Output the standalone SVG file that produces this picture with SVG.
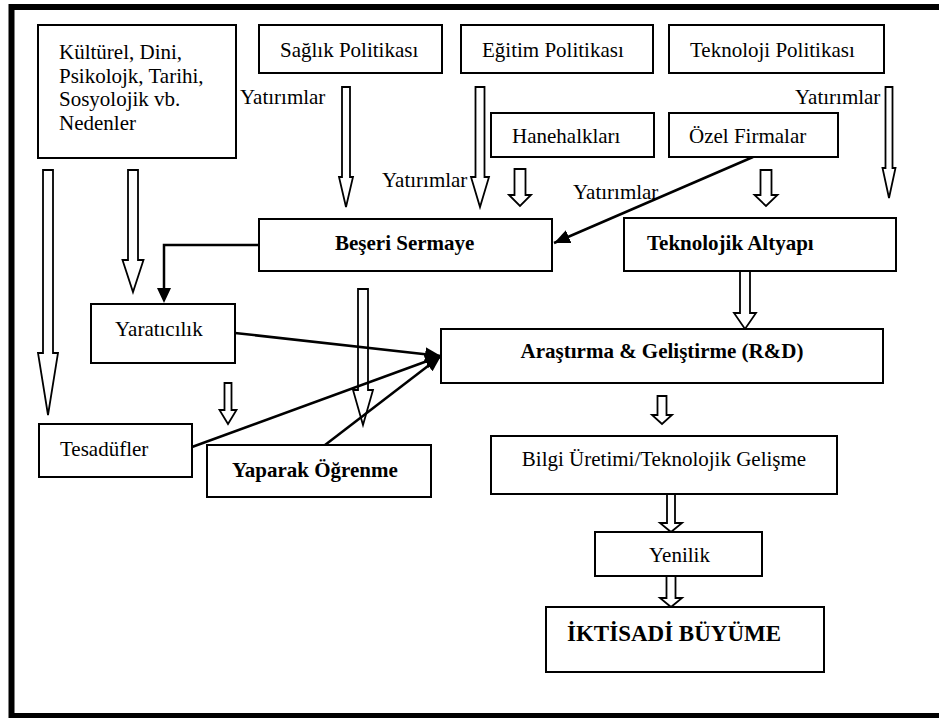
<svg xmlns="http://www.w3.org/2000/svg" width="939" height="718" viewBox="0 0 939 718">
<style>
.box{fill:#fff;stroke:#000;stroke-width:2}
.t{font-family:'Liberation Serif','Times New Roman',Times,'DejaVu Serif',serif;font-size:21px;fill:#000}
.b{font-weight:bold}
.ha{fill:#fff;stroke:#000;stroke-width:1.8;stroke-linejoin:miter}
.ln{fill:none;stroke:#000;stroke-width:2.5}
</style>
<defs>
<marker id="ah" markerUnits="userSpaceOnUse" markerWidth="18" markerHeight="16" refX="16" refY="7" orient="auto">
<path d="M0,0 L16,7 L0,14 z" fill="#000"/>
</marker>
</defs>
<rect x="11.5" y="7" width="940" height="709" fill="#fff" stroke="#000" stroke-width="6"/>

<g id="hollow-arrows">
<polygon class="ha" points="342,87 350,87 350,177 353,177 346,207 339,177 342,177"/>
<polygon class="ha" points="475.5,87 484.5,87 484.5,177 489,177 480,207 471,177 475.5,177"/>
<polygon class="ha" points="885.5,87 892.5,87 892.5,168 895.5,168 889,198 882.5,168 885.5,168"/>
<polygon class="ha" points="514.5,169 525.5,169 525.5,195 531,195 520,206 509,195 514.5,195"/>
<polygon class="ha" points="760.5,170 771.5,170 771.5,195 777.5,195 766,206 754.5,195 760.5,195"/>
<polygon class="ha" points="43,170 53,170 53,353 58,353 48,415 38,353 43,353"/>
<polygon class="ha" points="128,170 138,170 138,260 143.5,260 133,292 122.5,260 128,260"/>
<polygon class="ha" points="358,289 368,289 368,390 373,390 363,425 353,390 358,390"/>
<polygon class="ha" points="224.5,383 231.5,383 231.5,410 236.5,410 228,424 219.5,410 224.5,410"/>
<polygon class="ha" points="740,271 750,271 750,313 756,313 745,329 734,313 740,313"/>
<polygon class="ha" points="657.5,396 666.5,396 666.5,415 672,415 662,424 652,415 657.5,415"/>
<polygon class="ha" points="667,494 675,494 675,523 682,523 671,532 660,523 667,523"/>
<polygon class="ha" points="666.5,576 675.5,576 675.5,598 682,598 671,607 660,598 666.5,598"/>
</g>

<g id="connectors">
<path class="ln" d="M258,245 H164 V290"/>
<polygon points="157,288 171,288 164,303" fill="#000"/>
<line class="ln" x1="753" y1="157" x2="554" y2="243" marker-end="url(#ah)"/>
<line class="ln" x1="235" y1="333" x2="441" y2="356" marker-end="url(#ah)"/>
<line class="ln" x1="192" y1="447" x2="441" y2="356" marker-end="url(#ah)"/>
<line class="ln" x1="325" y1="445" x2="441" y2="356" marker-end="url(#ah)"/>
</g>

<g id="labels">
<text class="t" x="240" y="104">Yatırımlar</text>
<text class="t" x="382" y="187">Yatırımlar</text>
<text class="t" x="795" y="104">Yatırımlar</text>
<text class="t" x="573" y="199">Yatırımlar</text>
</g>

<g id="node-kulturel">
<rect class="box" x="38" y="25" width="198" height="133"/>
<text class="t" x="59" y="59">Kültürel, Dini,</text>
<text class="t" x="59" y="83">Psikolojk, Tarihi,</text>
<text class="t" x="59" y="106">Sosyolojik vb.</text>
<text class="t" x="59" y="130">Nedenler</text>
</g>
<g id="node-saglik">
<rect class="box" x="259" y="25" width="183" height="48"/>
<text class="t" x="280" y="57">Sağlık Politikası</text>
</g>
<g id="node-egitim">
<rect class="box" x="461" y="25" width="192" height="48"/>
<text class="t" x="482" y="57">Eğitim Politikası</text>
</g>
<g id="node-teknoloji-politikasi">
<rect class="box" x="669" y="25" width="215" height="48"/>
<text class="t" x="690" y="57">Teknoloji Politikası</text>
</g>
<g id="node-hanehalklari">
<rect class="box" x="491" y="113" width="163" height="44"/>
<text class="t" x="512" y="143">Hanehalkları</text>
</g>
<g id="node-ozel-firmalar">
<rect class="box" x="669" y="113" width="169" height="44"/>
<text class="t" x="689" y="143">Özel Firmalar</text>
</g>
<g id="node-beseri-sermaye">
<rect class="box" x="259" y="219" width="293" height="52"/>
<text class="t b" x="335" y="250">Beşeri Sermaye</text>
</g>
<g id="node-teknolojik-altyapi">
<rect class="box" x="624" y="218" width="272" height="53"/>
<text class="t b" x="647" y="250">Teknolojik Altyapı</text>
</g>
<g id="node-yaraticilik">
<rect class="box" x="91" y="304" width="144" height="59"/>
<text class="t" x="115" y="336">Yaratıcılık</text>
</g>
<g id="node-arge">
<rect class="box" x="441" y="329" width="442" height="54"/>
<text class="t b" x="662" y="358" text-anchor="middle">Araştırma &amp; Geliştirme (R&amp;D)</text>
</g>
<g id="node-tesaduefler">
<rect class="box" x="39" y="424" width="153" height="53"/>
<text class="t" x="60" y="456">Tesadüfler</text>
</g>
<g id="node-yaparak-ogrenme">
<rect class="box" x="207" y="445" width="224" height="52"/>
<text class="t b" x="232" y="477">Yaparak Öğrenme</text>
</g>
<g id="node-bilgi-uretimi">
<rect class="box" x="491" y="436" width="346" height="58"/>
<text class="t" x="664" y="466" text-anchor="middle">Bilgi Üretimi/Teknolojik Gelişme</text>
</g>
<g id="node-yenilik">
<rect class="box" x="595" y="532" width="167" height="44"/>
<text class="t" x="649" y="562">Yenilik</text>
</g>
<g id="node-iktisadi-buyume">
<rect class="box" x="546" y="607" width="278" height="65"/>
<text class="t b" x="567" y="641" style="font-size:23px">İKTİSADİ BÜYÜME</text>
</g>
</svg>
